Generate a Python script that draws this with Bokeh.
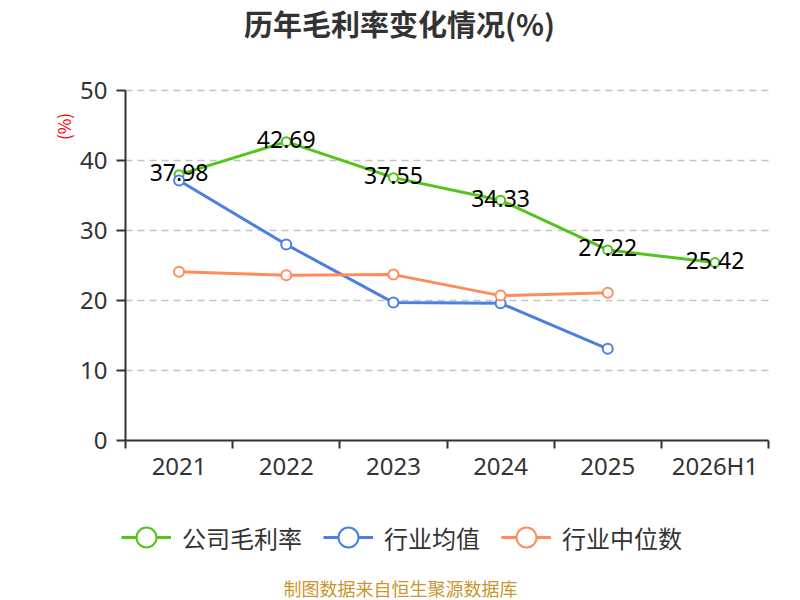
import math
from bokeh.plotting import figure
from bokeh.models import Range1d, FixedTicker, Legend, LegendItem, Label
from bokeh.core.properties import value
from bokeh.embed import file_html
from bokeh.resources import INLINE

categories = ["2021", "2022", "2023", "2024", "2025", "2026H1"]
company = [37.98, 42.69, 37.55, 34.33, 27.22, 25.42]
industry_avg = [37.14, 28.0, 19.7, 19.6, 13.1]
industry_median = [24.1, 23.6, 23.7, 20.7, 21.1]
y_ticks = [0, 10, 20, 30, 40, 50]
series_names = ["公司毛利率", "行业均值", "行业中位数"]
title_text = "历年毛利率变化情况(%)"
source_text = "制图数据来自恒生聚源数据库"

GREEN = "#52c41a"
BLUE = "#4b7fe0"
ORANGE = "#ff8c5a"
AXIS = "#333333"
NUM_FONT = "Noto Sans"
CJK_FONT = "Noto Sans CJK SC"

W, H = 800, 600
# plot area in pixels (left, right, top, bottom)
PL, PR, PT, PB = 125, 768, 90, 440
n = len(categories)
ymin, ymax = y_ticks[0], y_ticks[-1]
xpp = (PR - PL) / n
ypp = (PB - PT) / (ymax - ymin)
x_range = Range1d(-PL / xpp, n + (W - PR) / xpp)
y_range = Range1d(ymin - (H - PB) / ypp, ymax + PT / ypp)

p = figure(width=W, height=H, output_backend="svg", toolbar_location=None,
           x_range=x_range, y_range=y_range, min_border=0)
p.title.text = ""
p.title.visible = False
p.outline_line_color = None
p.background_fill_color = "white"
p.border_fill_color = "white"

xs = [i + 0.5 for i in range(n)]

# dashed grid lines across the category area
grid_y = [t for t in y_ticks if t > ymin]
p.segment(x0=[0] * len(grid_y), x1=[n] * len(grid_y), y0=grid_y, y1=grid_y,
          line_color="#c4c4c4", line_dash="7 5", line_width=1.5)

r1 = p.line(xs, company, line_color=GREEN, line_width=3)
r2 = p.line(xs[:len(industry_avg)], industry_avg, line_color=BLUE, line_width=3)
r3 = p.line(xs[:len(industry_median)], industry_median, line_color=ORANGE, line_width=3)
s1 = p.scatter(xs, company, size=9, marker="circle", fill_color="white",
               line_color=GREEN, line_width=2)
s2 = p.scatter(xs[:len(industry_avg)], industry_avg, size=10, marker="circle",
               fill_color="white", line_color=BLUE, line_width=2)
s3 = p.scatter(xs[:len(industry_median)], industry_median, size=10, marker="circle",
               fill_color="white", line_color=ORANGE, line_width=2)

p.text(x=xs, y=company, text=[f"{v:.2f}" for v in company],
       text_align="center", text_baseline="middle", text_font_size="23px",
       text_color="black", text_font=value(NUM_FONT), y_offset=-2)

# axes fixed at the plot-area edges
p.xaxis.fixed_location = ymin
p.yaxis.fixed_location = 0
p.xaxis.bounds = (0, n)
p.yaxis.bounds = (ymin, ymax)
p.xaxis.ticker = FixedTicker(ticks=xs, minor_ticks=list(range(n + 1)))
p.xaxis.major_label_overrides = {x: c for x, c in zip(xs, categories)}
p.xaxis.major_tick_out = 0
p.xaxis.major_tick_in = 0
p.xaxis.minor_tick_out = 8
p.xaxis.minor_tick_in = 0
p.xaxis.minor_tick_line_color = AXIS
p.xaxis.minor_tick_line_width = 2
p.xaxis.major_label_standoff = 0
p.yaxis.ticker = FixedTicker(ticks=y_ticks)
p.yaxis.major_tick_out = 9
p.yaxis.major_tick_in = 0
p.yaxis.major_tick_line_width = 2
p.yaxis.major_label_standoff = 9
p.yaxis.minor_tick_line_color = None
for ax in (p.xaxis, p.yaxis):
    ax.axis_line_color = AXIS
    ax.axis_line_width = 2
    ax.major_label_text_font = NUM_FONT
    ax.major_label_text_font_size = "24px"
    ax.major_label_text_color = AXIS
p.xaxis.major_tick_line_color = None
p.yaxis.major_tick_line_color = AXIS
p.grid.visible = False

# title, unit, source (screen units from bottom-left)
p.add_layout(Label(x=399, y=H - 22, x_units="screen", y_units="screen", text=title_text,
                   text_align="center", text_baseline="middle", text_font_size="29px",
                   text_font_style="bold", text_color=AXIS, text_font=CJK_FONT))
p.add_layout(Label(x=63, y=H - 126, x_units="screen", y_units="screen", text="(%)",
                   angle=math.pi / 2, text_align="center", text_baseline="middle",
                   text_font_size="17px", text_color="red", text_font=CJK_FONT))
p.add_layout(Label(x=400, y=H - 587, x_units="screen", y_units="screen", text=source_text,
                   text_align="center", text_baseline="middle", text_font_size="18px",
                   text_color="#c9962f", text_font=CJK_FONT))

legend = Legend(items=[LegendItem(label=series_names[0], renderers=[r1, s1]),
                       LegendItem(label=series_names[1], renderers=[r2, s2]),
                       LegendItem(label=series_names[2], renderers=[r3, s3])],
                orientation="horizontal", location=(121, H - 537 - 25))
legend.glyph_width = 50
legend.glyph_height = 50
legend.label_standoff = 11
legend.spacing = 21
legend.padding = 0
legend.margin = 0
legend.border_line_color = None
legend.background_fill_alpha = 0
legend.label_text_font = CJK_FONT
legend.label_text_font_size = "24px"
legend.label_text_color = AXIS
legend.label_height = 50
legend.label_text_baseline = "middle"
p.add_layout(legend, "center")

open("out.html", "w").write(file_html(p, INLINE))
